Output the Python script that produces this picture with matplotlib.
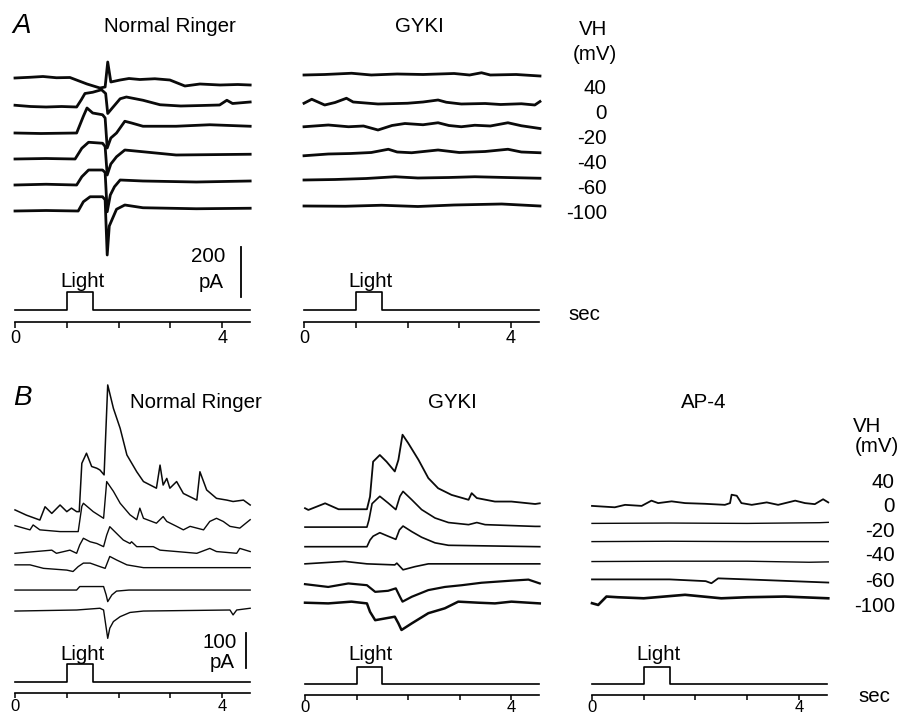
import matplotlib
matplotlib.use('Agg')
import matplotlib.pyplot as plt

plt.rcParams['font.family'] = ['Liberation Sans', 'DejaVu Sans']

W, H, DPI = 907, 719, 100

# ---------------- data ----------------
VH_LABELS = ['40', '0', '-20', '-40', '-60', '-100']
T_END = 4.54
LIGHT_ON, LIGHT_OFF = 1.0, 1.5
TIME_TICKS = [0, 1, 2, 3, 4]
TIME_LABELS = ['0', '', '', '', '4']
SCALE_A_PA = 200
SCALE_B_PA = 100

# Panel A, Normal Ringer: (time s, current pA relative to baseline)
A_NR_40 = [(0, 0), (0.3, 3), (0.54, 6), (0.8, 1), (1.06, 2), (1.39, -24), (1.64, -40), (1.74, -36),
           (1.79, 64), (1.85, -16), (2.03, -8), (2.2, -2), (2.41, -6), (2.7, -3), (2.99, -8),
           (3.28, -32), (3.57, -24), (3.96, -28), (4.3, -26), (4.54, -28)]
A_NR_0 = [(0, 3), (0.3, -2), (0.6, -4), (0.9, -2), (1.19, -4), (1.28, 25), (1.35, 50), (1.5, 55),
          (1.67, 65), (1.75, 50), (1.79, -30), (1.87, -10), (2.03, 29), (2.15, 36), (2.47, 23),
          (2.8, 5), (3.2, 0), (3.6, 2), (3.95, 4), (4.09, 23), (4.2, 10), (4.54, 16)]
A_NR_m20 = [(0, 0), (0.5, -2), (1.19, 0), (1.32, 67), (1.39, 100), (1.5, 80), (1.69, 73), (1.74, 60),
            (1.78, -60), (1.85, -20), (1.96, 0), (2.12, 47), (2.25, 40), (2.47, 27), (3.11, 27),
            (3.76, 33), (4.54, 27)]
A_NR_m40 = [(0, 0), (0.6, 2), (1.16, 0), (1.29, 43), (1.42, 67), (1.69, 63), (1.74, 50), (1.78, -64),
            (1.85, -20), (1.96, 9), (2.12, 36), (2.47, 29), (3.11, 16), (4.54, 19)]
A_NR_m60 = [(0, 0), (0.6, 3), (1.19, 0), (1.29, 33), (1.42, 60), (1.69, 60), (1.74, 50), (1.78, -107),
            (1.84, -40), (1.92, -7), (2.03, 20), (2.47, 16), (3.5, 12), (4.54, 16)]
A_NR_m100 = [(0, 0), (0.6, 2), (1.22, 0), (1.32, 37), (1.45, 57), (1.69, 57), (1.74, 45), (1.78, -176),
             (1.82, -60), (1.96, 7), (2.12, 24), (2.47, 13), (3.5, 9), (4.54, 11)]

# Panel A, GYKI
A_GY_40 = [(0, 0), (0.4, 2), (0.92, 7), (1.3, 0), (1.8, 4), (2.3, 2), (2.9, 6), (3.2, 0), (3.43, 9),
           (3.6, 0), (4.1, 2), (4.56, -4)]
A_GY_0 = [(0, 0), (0.15, 16), (0.4, -7), (0.6, 3), (0.82, 20), (0.95, 5), (1.43, -3), (2.0, 0),
          (2.3, 5), (2.59, 13), (2.75, 4), (3.04, -3), (3.5, -1), (3.8, -5), (4.2, -2), (4.46, -7),
          (4.56, 7)]
A_GY_m20 = [(0, 0), (0.47, 7), (0.86, 0), (1.15, 3), (1.43, -13), (1.7, 5), (1.95, 13), (2.3, 8),
            (2.59, 16), (2.8, 5), (3.04, 0), (3.3, 6), (3.6, 3), (3.94, 16), (4.2, 4), (4.56, -7)]
A_GY_m40 = [(0, -3), (0.47, 4), (0.9, 6), (1.3, 10), (1.63, 23), (1.8, 12), (2.08, 9), (2.59, 20),
            (3.0, 10), (3.5, 14), (3.94, 23), (4.2, 12), (4.56, 9)]
A_GY_m60 = [(0, 0), (0.6, 2), (1.2, 6), (1.76, 13), (2.2, 8), (2.8, 10), (3.3, 13), (3.9, 10), (4.56, 7)]
A_GY_m100 = [(0, 0), (0.8, -1), (1.5, 3), (2.2, -2), (2.9, 4), (3.82, 8), (4.56, 0)]

# Panel B, Normal Ringer
B_NR_40 = [(0.0, 5), (0.22, -10), (0.48, -24), (0.58, 14), (0.71, -5), (0.87, 19), (1.0, 0), (1.09, 10),
           (1.19, 0), (1.24, 0), (1.29, 138), (1.38, 167), (1.48, 129), (1.58, 124), (1.64, 119),
           (1.72, 105), (1.79, 362), (1.90, 295), (2.03, 238), (2.16, 162), (2.35, 114), (2.48, 86),
           (2.73, 67), (2.80, 133), (2.86, 76), (2.93, 95), (2.99, 67), (3.12, 86), (3.25, 52),
           (3.51, 33), (3.57, 114), (3.70, 62), (3.89, 38), (4.09, 33), (4.21, 29), (4.41, 33), (4.54, 19)]
B_NR_0 = [(0, 12), (0.29, 0), (0.35, 14), (0.48, 0), (0.87, -5), (1.22, -5), (1.29, 67), (1.32, 76),
          (1.51, 52), (1.71, 33), (1.77, 138), (1.90, 110), (2.03, 76), (2.22, 43), (2.35, 29),
          (2.41, 62), (2.48, 33), (2.73, 19), (2.86, 38), (2.93, 24), (3.12, 10), (3.25, 0),
          (3.38, 10), (3.64, 0), (3.76, 24), (3.89, 33), (4.02, 24), (4.15, 10), (4.34, 5), (4.54, 29)]
B_NR_m20 = [(0, 5), (0.71, 14), (0.8, 5), (1.06, 14), (1.19, 5), (1.25, 29), (1.32, 48), (1.45, 38),
            (1.58, 33), (1.71, 24), (1.77, 57), (1.83, 81), (1.96, 62), (2.09, 43), (2.22, 33),
            (2.25, 38), (2.35, 24), (2.67, 24), (2.8, 14), (3.12, 10), (3.51, 5), (3.76, 19),
            (3.89, 10), (4.28, 5), (4.34, 19), (4.54, 10)]
B_NR_m40 = [(0, 5), (0.29, 5), (0.55, -5), (1.0, -10), (1.12, -14), (1.22, 0), (1.32, 10), (1.45, 10),
            (1.64, 0), (1.74, -5), (1.83, 29), (1.96, 19), (2.16, 5), (2.48, -3), (4.54, -3)]
B_NR_m60 = [(0, 0), (1.19, 0), (1.25, 10), (1.71, 10), (1.76, -14), (1.79, -33), (1.87, -14),
            (1.96, -3), (2.2, 0), (4.54, 0)]
B_NR_m100 = [(0, -3), (1.19, 0), (1.64, 5), (1.71, 0), (1.79, -81), (1.83, -52), (1.90, -33),
             (2.03, -19), (2.22, -7), (2.48, -3), (4.15, 0), (4.21, -14), (4.28, 0), (4.54, 5)]

# Panel B, GYKI
B_GY_40 = [(0, 0), (0.065, -5), (0.39, 14), (0.65, -3), (1.2, -3), (1.26, 33), (1.32, 133), (1.45, 152),
           (1.58, 133), (1.74, 105), (1.81, 138), (1.89, 210), (2.0, 186), (2.2, 138), (2.39, 86),
           (2.58, 57), (2.84, 38), (3.17, 24), (3.23, 43), (3.33, 29), (3.68, 19), (4.0, 19),
           (4.46, 12), (4.55, 14)]
B_GY_0 = [(0, 0), (1.2, 0), (1.24, 21), (1.30, 67), (1.45, 88), (1.61, 69), (1.76, 50), (1.84, 88),
          (1.9, 102), (2.07, 78), (2.26, 50), (2.52, 26), (2.78, 13), (3.17, 7), (3.33, 13),
          (3.49, 7), (4.46, 2), (4.55, 2)]
B_GY_m20 = [(0, 0), (1.2, 0), (1.26, 19), (1.32, 30), (1.45, 40), (1.61, 30), (1.76, 21), (1.83, 48),
            (1.9, 59), (2.07, 43), (2.26, 27), (2.52, 11), (2.78, 4), (4.55, 0)]
B_GY_m40 = [(0, -2), (0.77, 5), (1.2, -2), (1.74, -5), (1.78, 0), (1.9, -19), (2.13, -10),
            (2.39, -2), (4.55, -2)]
B_GY_m60 = [(0, 0), (0.45, -8), (0.84, 2), (1.2, -3), (1.36, -22), (1.61, -19), (1.76, -12),
            (1.84, -36), (1.89, -50), (2.07, -36), (2.39, -17), (2.71, -8), (3.04, -3), (3.42, 4),
            (4.0, 10), (4.33, 13), (4.55, 2)]
B_GY_m100 = [(0, 0), (0.45, -2), (0.9, 3), (1.2, -2), (1.26, -26), (1.36, -50), (1.55, -45),
             (1.74, -40), (1.81, -59), (1.87, -78), (2.07, -59), (2.39, -30), (2.71, -16),
             (2.97, 3), (3.36, 0), (3.68, -2), (4.0, 3), (4.55, -2)]

# Panel B, AP-4
B_AP_40 = [(0, -3), (0.44, -7), (0.64, 0), (0.96, -3), (1.15, 12), (1.28, 5), (1.54, 10), (1.8, 5),
           (2.19, 3), (2.57, 0), (2.67, 5), (2.7, 29), (2.8, 26), (2.89, 5), (3.09, 0), (3.38, 7),
           (3.6, 0), (3.93, 12), (4.12, 5), (4.31, 2), (4.47, 16), (4.57, 7)]
B_AP_0 = [(0, 0), (1.5, 1), (3.0, 0), (4.4, 2), (4.57, 3)]
B_AP_m20 = [(0, 0), (1.5, 1), (3.0, 0), (4.57, 0)]
B_AP_m40 = [(0, 0), (1.5, 1), (3.0, 1), (4.2, -2), (4.57, -1)]
B_AP_m60 = [(0, 0), (1.5, 0), (2.2, -5), (2.31, -11), (2.44, 3), (3.0, 0), (4.57, -9)]
B_AP_m100 = [(0, -14), (0.12, -19), (0.28, 5), (0.5, 3), (1.0, 0), (1.8, 10), (2.5, 0), (3.0, 3),
             (3.73, 5), (4.57, 0)]

# ---------------- layout ----------------
PANELS = [
    dict(traces=[A_NR_40, A_NR_0, A_NR_m20, A_NR_m40, A_NR_m60, A_NR_m100],
         offsets=[532, 420, 312, 208, 104, 0], x0=15, pps=51.8, top=45, bottom=300,
         base=211, k=4.0, axis=322, off=310, on=292, lw=[2.0] * 6,
         tick_fs=13, tick_len=4.5, tick_pad=1.5),
    dict(traces=[A_GY_40, A_GY_0, A_GY_m20, A_GY_m40, A_GY_m60, A_GY_m100],
         offsets=[524, 411, 317, 204, 104, 0], x0=304, pps=51.75, top=45, bottom=300,
         base=206, k=4.0, axis=322, off=310, on=292, lw=[2.0] * 6,
         tick_fs=13, tick_len=4.5, tick_pad=1.5),
    dict(traces=[B_NR_40, B_NR_0, B_NR_m20, B_NR_m40, B_NR_m60, B_NR_m100],
         offsets=[281, 229, 157, 124, 57, 0], x0=15, pps=51.8, top=375, bottom=672,
         base=610, k=100 / 35, axis=693, off=682, on=664, lw=[1.1, 1.0, 1.0, 1.0, 1.0, 1.0],
         tick_fs=12, tick_len=3.8, tick_pad=0.6),
    dict(traces=[B_GY_40, B_GY_0, B_GY_m20, B_GY_m40, B_GY_m60, B_GY_m100],
         offsets=[270, 216, 160, 113, 53, 0], x0=305, pps=51.6, top=375, bottom=672,
         base=602.7, k=100 / 35, axis=695, off=684, on=667, lw=[1.3, 1.2, 1.2, 1.2, 1.6, 1.8],
         tick_fs=12, tick_len=3.6, tick_pad=0.3),
    dict(traces=[B_AP_40, B_AP_0, B_AP_m20, B_AP_m40, B_AP_m60, B_AP_m100],
         offsets=[267, 214, 162, 105, 54, 0], x0=592, pps=51.7, top=375, bottom=672,
         base=598.3, k=100 / 35, axis=695, off=684, on=667, lw=[1.3, 1.0, 1.0, 1.0, 1.3, 1.9],
         tick_fs=12, tick_len=3.6, tick_pad=0.3),
]

FS = 14.8

fig = plt.figure(figsize=(W / DPI, H / DPI), dpi=DPI)
fig.patch.set_facecolor('white')


def px_axes(left, right, top, bottom):
    ax = fig.add_axes([left / W, 1 - bottom / H, (right - left) / W, (bottom - top) / H])
    ax.patch.set_alpha(0)
    return ax


axes_tr = []
axes_st = []
for p in PANELS:
    right = p['x0'] + T_END * p['pps']
    ax = px_axes(p['x0'], right, p['top'], p['bottom'])
    ax.set_xlim(0, T_END)
    ax.set_ylim((p['base'] - p['bottom']) * p['k'], (p['base'] - p['top']) * p['k'])
    ax.set_axis_off()
    for tr, off, lw in zip(p['traces'], p['offsets'], p['lw']):
        ts = [a for a, b in tr]
        vs = [b + off for a, b in tr]
        ax.plot(ts, vs, color='#0a0a0a', lw=lw, solid_joinstyle='round', clip_on=False)
    axes_tr.append(ax)

    # light stimulus + time axis
    span = p['off'] - p['on']
    st = px_axes(p['x0'], right, p['on'] - 8, p['axis'])
    st.set_xlim(0, T_END)
    st.set_ylim(-(p['axis'] - p['off']) / span, 1 + 8 / span)
    st.plot([0, LIGHT_ON, LIGHT_ON, LIGHT_OFF, LIGHT_OFF, T_END], [0, 0, 1, 1, 0, 0],
            color='black', lw=1.2, clip_on=False)
    for s in ['top', 'right', 'left']:
        st.spines[s].set_visible(False)
    st.spines['bottom'].set_linewidth(1.2)
    st.set_yticks([])
    st.set_xticks(TIME_TICKS)
    st.set_xticklabels(TIME_LABELS, fontsize=p['tick_fs'])
    st.tick_params(axis='x', direction='out', length=p['tick_len'], width=1.1, pad=p['tick_pad'])
    axes_st.append(st)

# scale bars (data units: pA)
axes_tr[0].plot([4.363, 4.363], [-344, -344 + SCALE_A_PA], color='black', lw=1.3, clip_on=False)
axes_tr[2].plot([4.46, 4.46], [-166, -166 + SCALE_B_PA], color='black', lw=1.3, clip_on=False)


def ftext(x, y, s, ha='center', size=FS, **kw):
    fig.text(x / W, 1 - y / H, s, ha=ha, va='baseline', fontsize=size, **kw)


# titles
ftext(12, 33, 'A', ha='left', size=20, style='italic')
ftext(170, 32, 'Normal Ringer')
ftext(419, 32, 'GYKI')
ftext(13, 405, 'B', ha='left', size=20, style='italic')
ftext(196, 408, 'Normal Ringer')
ftext(452, 408, 'GYKI')
ftext(704, 408, 'AP-4')

# light labels
for x, y in [(82, 287), (370, 287), (82, 660), (371, 660), (658, 660)]:
    ftext(x, y, 'Light')

# scale labels
ftext(225, 262, str(SCALE_A_PA), ha='right')
ftext(224, 288, 'pA', ha='right')
ftext(237, 648, str(SCALE_B_PA), ha='right')
ftext(235, 668, 'pA', ha='right')

# VH labels
ftext(593, 35, 'VH')
ftext(595, 60, '(mV)')
for lab, y in zip(VH_LABELS, [94, 119, 144, 169, 194, 219]):
    ftext(607, y, lab, ha='right')
ftext(568, 320, 'sec', ha='left')

ftext(867, 432, 'VH')
ftext(877, 452, '(mV)')
for lab, y in zip(VH_LABELS, [488, 512, 537, 561, 587, 612]):
    ftext(895, y, lab, ha='right')
ftext(858, 702, 'sec', ha='left')

fig.savefig('out.png', dpi=DPI, facecolor='white')
